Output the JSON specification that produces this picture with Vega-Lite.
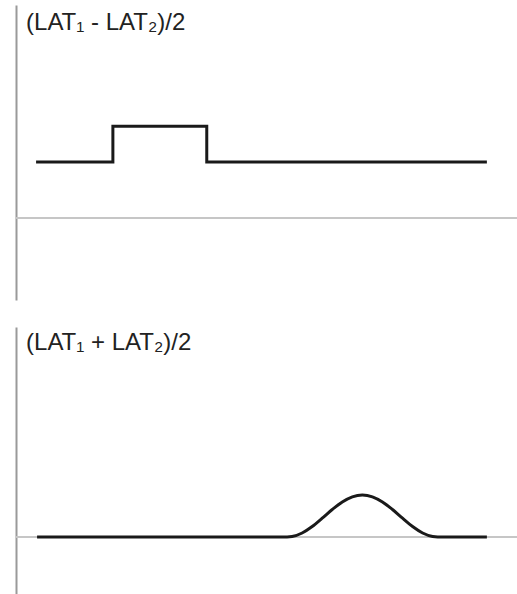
{
  "$schema": "https://vega.github.io/schema/vega-lite/v6.json",
  "autosize": {"type": "pad"},
  "padding": {"left": 15, "top": 5, "right": 0, "bottom": 0},
  "background": "white",
  "spacing": 27,
  "config": {
    "view": {"stroke": null},
    "axisY": {
      "ticks": false,
      "labels": false,
      "grid": false,
      "title": null,
      "domainColor": "#9a9a9a",
      "domainWidth": 2
    },
    "text": {"font": "Liberation Sans"}
  },
  "datasets": {
    "baseline": [{"level": 0}],
    "difference": [
      {"t": 4, "v": 1, "i": 0},
      {"t": 19.3, "v": 1, "i": 1},
      {"t": 19.3, "v": 1.64, "i": 2},
      {"t": 38, "v": 1.64, "i": 3},
      {"t": 38, "v": 1, "i": 4},
      {"t": 93.8, "v": 1, "i": 5}
    ],
    "sum": [
      {"t": 4.2, "v": 0},
      {"t": 54, "v": 0},
      {"t": 55, "v": 0.011},
      {"t": 57, "v": 0.096},
      {"t": 59, "v": 0.25},
      {"t": 61, "v": 0.448},
      {"t": 63, "v": 0.655},
      {"t": 65, "v": 0.835},
      {"t": 67, "v": 0.957},
      {"t": 69, "v": 1},
      {"t": 71, "v": 0.957},
      {"t": 73, "v": 0.835},
      {"t": 75, "v": 0.655},
      {"t": 77, "v": 0.448},
      {"t": 79, "v": 0.25},
      {"t": 81, "v": 0.096},
      {"t": 83, "v": 0.011},
      {"t": 84, "v": 0},
      {"t": 93.8, "v": 0}
    ],
    "labels": [
      {"panel": "difference", "label": "(LAT₁ - LAT₂)/2", "t": 2, "v": 3.35},
      {"panel": "sum", "label": "(LAT₁ + LAT₂)/2", "t": 2, "v": 4.45}
    ]
  },
  "vconcat": [
    {
      "width": 502,
      "height": 295,
      "layer": [
        {
          "data": {"name": "baseline"},
          "mark": {"type": "rule", "color": "#c6c6c6", "strokeWidth": 2},
          "encoding": {"y": {"field": "level", "type": "quantitative"}}
        },
        {
          "data": {"name": "difference"},
          "mark": {"type": "line", "color": "#1a1a1a", "strokeWidth": 3, "strokeJoin": "miter", "strokeCap": "butt"},
          "encoding": {
            "x": {"field": "t", "type": "quantitative", "scale": {"domain": [0, 100], "nice": false, "zero": false}, "axis": null},
            "y": {"field": "v", "type": "quantitative", "scale": {"domain": [-1.46, 3.8], "nice": false, "zero": false}},
            "order": {"field": "i"}
          }
        },
        {
          "data": {"name": "labels"},
          "transform": [{"filter": "datum.panel === 'difference'"}],
          "mark": {"type": "text", "align": "left", "baseline": "alphabetic", "fontSize": 24, "color": "#222222"},
          "encoding": {
            "x": {"field": "t", "type": "quantitative"},
            "y": {"field": "v", "type": "quantitative"},
            "text": {"field": "label"}
          }
        }
      ]
    },
    {
      "width": 502,
      "height": 267,
      "layer": [
        {
          "data": {"name": "baseline"},
          "mark": {"type": "rule", "color": "#c6c6c6", "strokeWidth": 2},
          "encoding": {"y": {"field": "level", "type": "quantitative"}}
        },
        {
          "data": {"name": "sum"},
          "mark": {"type": "line", "color": "#1a1a1a", "strokeWidth": 3, "interpolate": "monotone"},
          "encoding": {
            "x": {"field": "t", "type": "quantitative", "scale": {"domain": [0, 100], "nice": false, "zero": false}, "axis": null},
            "y": {"field": "v", "type": "quantitative", "scale": {"domain": [-1.357, 5.0], "nice": false, "zero": false}}
          }
        },
        {
          "data": {"name": "labels"},
          "transform": [{"filter": "datum.panel === 'sum'"}],
          "mark": {"type": "text", "align": "left", "baseline": "alphabetic", "fontSize": 24, "color": "#222222"},
          "encoding": {
            "x": {"field": "t", "type": "quantitative"},
            "y": {"field": "v", "type": "quantitative"},
            "text": {"field": "label"}
          }
        }
      ]
    }
  ]
}
